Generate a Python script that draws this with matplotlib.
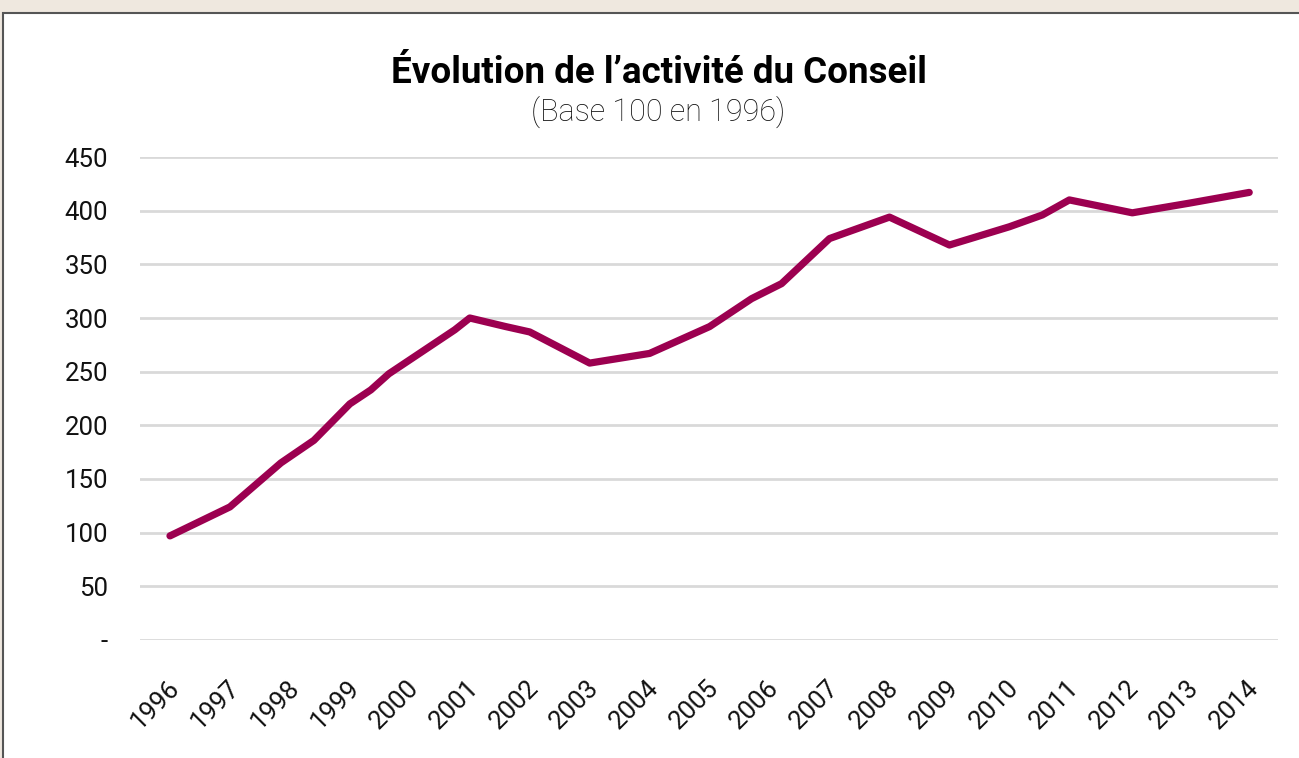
import matplotlib
matplotlib.use("Agg")
import matplotlib.pyplot as plt
import matplotlib.transforms as mtransforms
from matplotlib.patches import Rectangle

# --- données (base 100 en 1996) ---
dates = [1996.0, 1997.0, 1997.85, 1998.4, 1999.0, 1999.35, 1999.65, 2000.75,
         2001.0, 2001.6, 2002.0, 2003.0, 2004.0, 2005.0, 2005.7, 2006.2,
         2007.0, 2008.0, 2009.0, 2010.0, 2010.55, 2011.0, 2012.05, 2013.0, 2014.0]
activite = [97, 124, 165, 186, 220, 233, 248, 289,
            300, 292, 287, 258, 267, 292, 318, 332,
            374, 394, 368, 385, 396, 410, 398, 407, 417]
annees = list(range(1996, 2015))
yticks = [0, 50, 100, 150, 200, 250, 300, 350, 400, 450]
ylabels = ["-" if v == 0 else str(v) for v in yticks]

couleur_ligne = "#9c0050"
couleur_grille = "#d9d9d9"

fig = plt.figure(figsize=(12.99, 7.58), dpi=100)
fig.patch.set_facecolor("#efe8df")

# panneau blanc avec bordure
W, H = 1299, 758
fig.patches.append(Rectangle((3 / W, -0.01), 1.0, 1.01 - 13 / H, transform=fig.transFigure,
                             facecolor="white", edgecolor="#555555", linewidth=1.5, zorder=-5))

ax = fig.add_axes([140 / W, 1 - 640 / H, (1278 - 140) / W, (640 - 157) / H])
ax.set_zorder(2)
ax.set_facecolor("none")

ax.plot(dates, activite, color=couleur_ligne, linewidth=5.2,
        solid_capstyle="round", solid_joinstyle="round", zorder=3)

ax.set_xlim(1995.5, 2014.48)
ax.set_ylim(0, 450)
ax.set_yticks(yticks)
ax.set_yticklabels(ylabels)
ax.set_xticks(annees)
ax.set_xticklabels([str(a) for a in annees], rotation=45, ha="right", va="center",
                   rotation_mode="anchor")

ax.grid(axis="y", color=couleur_grille, linewidth=2)
ax.set_axisbelow(True)
for s in ax.spines.values():
    s.set_visible(False)
ax.tick_params(axis="both", length=0, labelsize=18.5, colors="#111111")
ax.tick_params(axis="y", pad=23)
ax.tick_params(axis="x", pad=32)
for lbl in ax.get_xticklabels() + ax.get_yticklabels():
    lbl.set_family(["Roboto", "DejaVu Sans"])
offset = mtransforms.ScaledTranslation(4 / 72, 0, fig.dpi_scale_trans)
for lbl in ax.get_xticklabels():
    lbl.set_transform(lbl.get_transform() + offset)

fig.text(658.5 / W, 1 - 83 / H, "Évolution de l’activité du Conseil", ha="center",
         va="baseline", fontsize=26.5, fontweight="bold",
         family=["Roboto", "DejaVu Sans"], color="#000000")
fig.text(658.5 / W, 1 - 121 / H, "(Base 100 en 1996)", ha="center", va="baseline",
         fontsize=22, fontweight="light",
         family=["Roboto", "DejaVu Sans"], color="#111111")

fig.savefig("out.png", dpi=100)
